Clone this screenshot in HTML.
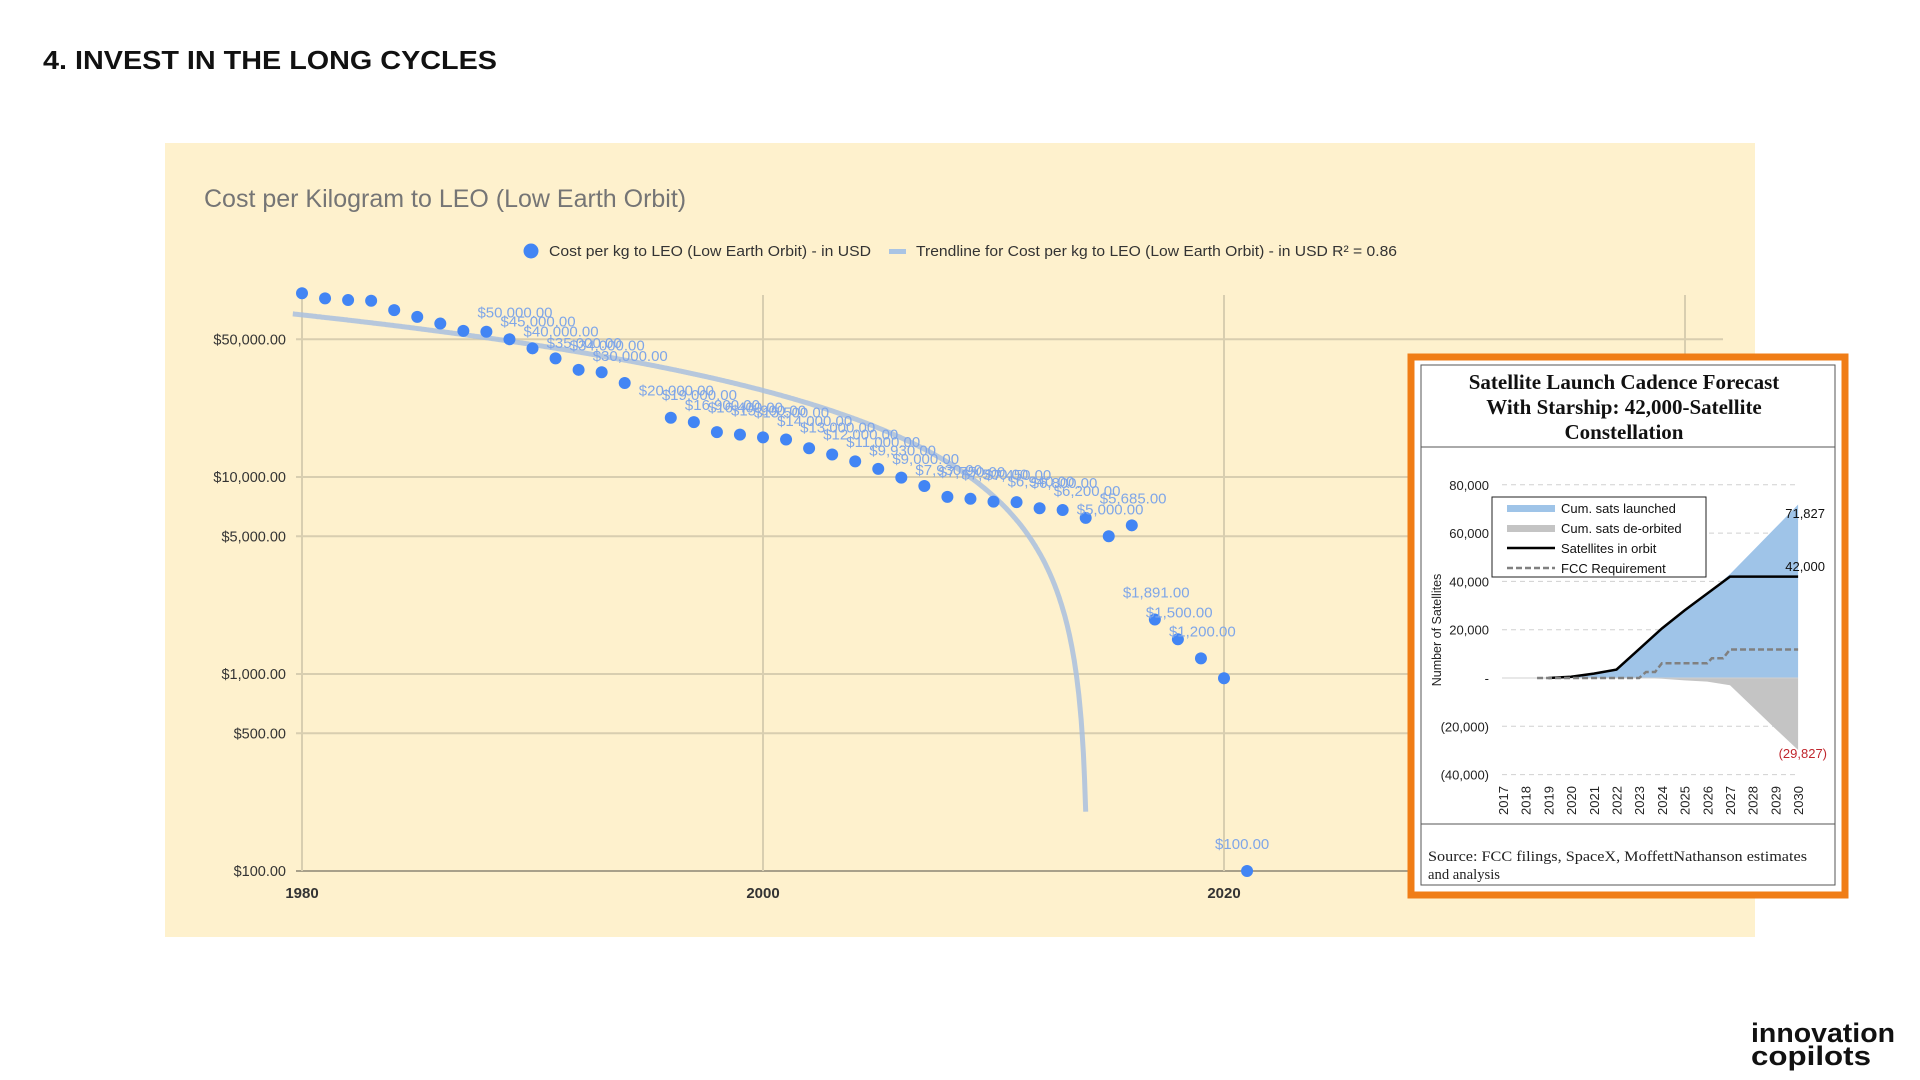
<!DOCTYPE html>
<html><head><meta charset="utf-8"><style>
html,body{margin:0;padding:0;background:#fff;width:1920px;height:1080px;overflow:hidden}
svg{display:block}
text{font-family:"Liberation Sans",Arial,sans-serif}
.serif{font-family:"Liberation Serif",serif}
</style></head><body>
<svg id="s" width="1920" height="1080" viewBox="0 0 1920 1080" xmlns="http://www.w3.org/2000/svg">
<text x="43" y="69" font-size="26" font-weight="bold" fill="#111" textLength="454" lengthAdjust="spacingAndGlyphs">4. INVEST IN THE LONG CYCLES</text>
<rect x="165" y="143" width="1590" height="794" fill="#fef1cd"/>
<text x="204" y="207" font-size="25" fill="#757575">Cost per Kilogram to LEO (Low Earth Orbit)</text>
<circle cx="531" cy="251" r="7.5" fill="#4285f4"/>
<text x="549" y="256" font-size="15" fill="#333" textLength="322" lengthAdjust="spacingAndGlyphs">Cost per kg to LEO (Low Earth Orbit) - in USD</text>
<rect x="889" y="249" width="17" height="5" fill="#a9c4e4"/>
<text x="916" y="256" font-size="15" fill="#333" textLength="481" lengthAdjust="spacingAndGlyphs">Trendline for Cost per kg to LEO (Low Earth Orbit) - in USD R² = 0.86</text>
<g id="main"></g>
<g id="inset"></g>
<text x="1751" y="1042" font-size="27" font-weight="bold" fill="#111" textLength="144" lengthAdjust="spacingAndGlyphs">innovation</text>
<text x="1751" y="1065" font-size="27" font-weight="bold" fill="#111" textLength="120" lengthAdjust="spacingAndGlyphs">copilots</text>
</svg>
<script>
const years = [1980,1981,1982,1983,1984,1985,1986,1987,1988,1989,1990,1991,1992,1993,1994,1996,1997,1998,1999,2000,2001,2002,2003,2004,2005,2006,2007,2008,2009,2010,2011,2012,2013,2014,2015,2016,2017,2018,2019,2020,2021];
const costs = [85700,80700,79100,78500,70300,65000,60100,55200,54600,50000,45000,40000,35000,34000,30000,20000,19000,16900,16400,15900,15500,14000,13000,12000,11000,9930,9000,7930,7750,7500,7450,6940,6800,6200,5000,5685,1891,1500,1200,951,100];
const labeled = [1989,1990,1991,1992,1993,1994,1996,1997,1998,1999,2000,2001,2002,2003,2004,2005,2006,2007,2008,2009,2010,2011,2012,2013,2014,2015,2016,2017,2018,2019,2021];
const yTicks = [50000,10000,5000,1000,500,100];
const yTickLabels = ["$50,000.00","$10,000.00","$5,000.00","$1,000.00","$500.00","$100.00"];
const xTicks = [1980,2000,2020,2040];
const xTickLabels = ["1980","2000","2020",""];
const trendIntercept = 66500, trendSlope = 1950;

const satYears = [2017,2018,2019,2020,2021,2022,2023,2024,2025,2026,2027,2028,2029,2030];
const launched = [0,0,0,500,1800,3500,12000,20500,28000,35000,43000,52600,62200,71827];
const deorbited = [0,0,0,0,0,0,0,-300,-1000,-1500,-3000,-12000,-21000,-29827];
const inOrbit = [null,null,0,500,1800,3500,12000,20500,28000,35000,42000,42000,42000,42000];
const fccX = [2018.5,2023,2023.3,2023.7,2024,2026,2026.2,2026.7,2027,2030];
const fccY = [0,0,2500,2500,6100,6100,8200,8200,11800,11800];
const satTicks = [80000,60000,40000,20000,0,-20000,-40000];
const satTickLabels = ["80,000","60,000","40,000","20,000","-","(20,000)","(40,000)"];

const NS="http://www.w3.org/2000/svg";
function mk(parent,tag,attrs,txt){const e=document.createElementNS(NS,tag);for(const k in attrs)e.setAttribute(k,attrs[k]);if(txt!==undefined)e.textContent=txt;parent.appendChild(e);return e;}
const fmt=v=>"$"+v.toLocaleString("en-US",{minimumFractionDigits:2,maximumFractionDigits:2});

const xS = yr => 302 + (yr-1980)*23.05;
const yS = v => 871 - (Math.log10(v)-2)*197;
const g=document.getElementById('main');
yTicks.forEach((t,i)=>{
  const l=mk(g,'line',{x1:296,x2:1723,y1:yS(t),y2:yS(t),stroke:t===100?'#8c8674':'#d8ceb0','stroke-width':t===100?1.5:2});
  
  
  const tx=mk(g,'text',{x:286,y:yS(t)+5,'font-size':14.5,'text-anchor':'end',fill:'#333'},yTickLabels[i]);
  
  
});
xTicks.forEach((t,i)=>{
  const l=mk(g,'line',{x1:xS(t),x2:xS(t),y1:295,y2:871,stroke:'#d8ceb0','stroke-width':2});
  
  
  const tx=mk(g,'text',{x:xS(t),y:898,'font-size':15,'text-anchor':'middle',fill:'#333','font-weight':'bold'},xTickLabels[i]);
  
  
});
let d="";
const endYr = 1980 + (trendIntercept-200)/trendSlope;
for(let yr=1979.6;yr<endYr;yr+=0.05){const v=trendIntercept-trendSlope*(yr-1980);d+=(d?"L":"M")+xS(yr).toFixed(1)+","+yS(v).toFixed(1);}
d+="L"+xS(endYr).toFixed(1)+","+yS(200).toFixed(1);
const tl=mk(g,'path',{d:d,fill:'none',stroke:'#a9c0de','stroke-width':5,'stroke-opacity':0.85});


years.forEach((yr,i)=>{
  const c=mk(g,'circle',{cx:xS(yr),cy:yS(costs[i]),r:6,fill:'#4285f4'});
  
  
  if(labeled.includes(yr)){
    const t=mk(g,'text',{x:xS(yr)-32,y:yS(costs[i])-22,'font-size':15,fill:'#7fa6e8'},fmt(costs[i]));
    
    
  }
});

const ig=document.getElementById('inset');
const r1=mk(ig,'rect',{x:1411,y:357,width:434,height:538,fill:'#fff',stroke:'#f07d16','stroke-width':7});


const r2=mk(ig,'rect',{x:1421,y:365,width:414,height:520,fill:'none',stroke:'#555','stroke-width':1});


["Satellite Launch Cadence Forecast","With Starship: 42,000-Satellite","Constellation"].forEach((s,i)=>{
  const t=mk(ig,'text',{x:1624,y:389+i*25,'font-size':21,'font-weight':'bold','text-anchor':'middle',fill:'#111',class:'serif'},s);
  
  
});
mk(ig,'line',{x1:1421,x2:1835,y1:447,y2:447,stroke:'#555'});
mk(ig,'line',{x1:1421,x2:1835,y1:824,y2:824,stroke:'#555'});
const sx = yr => 1503 + (yr-2017)*22.7;
const sy = v => 678 - v/20000*48.3;
satTicks.forEach((t,i)=>{
  const l=mk(ig,'line',{x1:1502,x2:1798,y1:sy(t),y2:sy(t),stroke:'#d0d0d0','stroke-width':1,'stroke-dasharray':'5,4'});
  
  
  const tx=mk(ig,'text',{x:1489,y:sy(t)+5,'font-size':13,'text-anchor':'end',fill:'#222'},satTickLabels[i]);
  
  
});
let pa="M"+sx(satYears[0])+","+sy(0);
satYears.forEach((y,i)=>pa+="L"+sx(y)+","+sy(launched[i]));
pa+="L"+sx(2030)+","+sy(0)+"Z";
const a1=mk(ig,'path',{d:pa,fill:'#9fc4e8'});


let pb="M"+sx(satYears[0])+","+sy(0);
satYears.forEach((y,i)=>pb+="L"+sx(y)+","+sy(deorbited[i]));
pb+="L"+sx(2030)+","+sy(0)+"Z";
const a2=mk(ig,'path',{d:pb,fill:'#c4c4c4'});


mk(ig,'line',{x1:1502,x2:1798,y1:sy(0),y2:sy(0),stroke:'#d0d0d0'});
let pc="";
satYears.forEach((y,i)=>{if(inOrbit[i]!==null)pc+=(pc?"L":"M")+sx(y)+","+sy(inOrbit[i]);});
const l1=mk(ig,'path',{d:pc,fill:'none',stroke:'#000','stroke-width':2.5});


let pd="";
fccX.forEach((x,i)=>pd+=(pd?"L":"M")+sx(x)+","+sy(fccY[i]));
const l2=mk(ig,'path',{d:pd,fill:'none',stroke:'#808080','stroke-width':2.5,'stroke-dasharray':'6,3'});


satYears.forEach(y=>{
  const t=mk(ig,'text',{x:0,y:0,'font-size':13,fill:'#222',transform:`translate(${sx(y)+5},${823-8}) rotate(-90)`},String(y));
  
  
});
const yt=mk(ig,'text',{x:0,y:0,'font-size':12.5,fill:'#222','text-anchor':'middle',transform:'translate(1441,630) rotate(-90)'},'Number of Satellites');


const v1=mk(ig,'text',{x:1825,y:518,'font-size':13,'text-anchor':'end',fill:'#111'},launched[13].toLocaleString('en-US'));


const v2=mk(ig,'text',{x:1825,y:571,'font-size':13,'text-anchor':'end',fill:'#111'},inOrbit[13].toLocaleString('en-US'));


const v3=mk(ig,'text',{x:1827,y:758,'font-size':13,'text-anchor':'end',fill:'#c0262d'},"("+(-deorbited[13]).toLocaleString('en-US')+")");


const lg=mk(ig,'rect',{x:1492,y:497,width:214,height:80,fill:'#fff',stroke:'#222','stroke-width':1});


const leg=[["Cum. sats launched","#9fc4e8","rect"],["Cum. sats de-orbited","#c4c4c4","rect"],["Satellites in orbit","#000","line"],["FCC Requirement","#808080","dash"]];
leg.forEach((e,i)=>{
  const y=508+i*20;
  if(e[2]==="rect")mk(ig,'rect',{x:1507,y:y-3,width:48,height:7,fill:e[1]});
  else mk(ig,'line',{x1:1507,x2:1555,y1:y,y2:y,stroke:e[1],'stroke-width':2.5,'stroke-dasharray':e[2]==="dash"?'6,3':'none'});
  const t=mk(ig,'text',{x:1561,y:y+5,'font-size':13,fill:'#111'},e[0]);
  
  
});
[["Source: FCC filings, SpaceX, MoffettNathanson estimates",379],["and analysis",72]].forEach((s,i)=>{
  const t=mk(ig,'text',{x:1428,y:861+i*18,'font-size':14.5,fill:'#222',class:'serif',textLength:s[1],lengthAdjust:'spacingAndGlyphs'},s[0]);
  
  
});
</script>
</body></html>
